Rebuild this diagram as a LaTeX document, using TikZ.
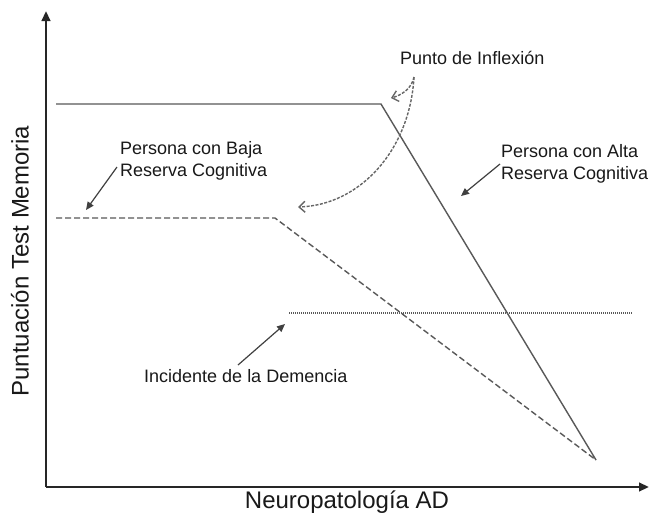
\documentclass[tikz,border=0pt]{standalone}
\usepackage{fontspec}
\setmainfont{Liberation Sans}
\usetikzlibrary{arrows.meta}
\begin{document}
\begin{tikzpicture}[x=1pt,y=-1pt,
  lbl/.style={font=\fontsize{18}{22.5}\selectfont, text=black!90, inner sep=0pt, align=left},
  axlbl/.style={font=\fontsize{24}{28}\selectfont, text=black!90, inner sep=0pt},
  axis/.style={line width=2.6pt, black!85, -{Triangle[length=10pt,width=8.5pt]}},
  curve/.style={line width=1.4pt, black!65},
  ptr/.style={line width=1.2pt, black!75, -{Triangle[length=8pt,width=7pt]}},
  bendarrow/.style={line width=1.4pt, black!60, dash pattern=on 3pt off 1.5pt, -{Straight Barb[length=6pt,width=11pt]}}]
\useasboundingbox (0,0) rectangle (651,515);
\fill[white] (0,0) rectangle (651,515);
% axes
\coordinate (O) at (46,487);
\coordinate (ytip) at (46,11);
\coordinate (xtip) at (649,487);
\draw[axis] (O) -- (ytip);
\draw[axis] (O) -- (xtip);
\node[axlbl, rotate=90] (ylab) at (20,261) {Puntuación Test Memoria};
\node[axlbl] (xlab) at (347,502) {Neuropatología AD};
% curves
\coordinate (h0) at (56,104);
\coordinate (h1) at (381,104);
\coordinate (end) at (596,460);
\coordinate (l0) at (56,218);
\coordinate (l1) at (275,218);
\coordinate (d0) at (289,313);
\coordinate (d1) at (632,313);
\draw[curve] (h0) -- (h1) -- (end);
\draw[curve, dash pattern=on 6pt off 3pt] (l0) -- (l1) -- (end);
\draw[curve, line width=1.6pt, dash pattern=on 1pt off 1pt] (d0) -- (d1);
% labels
\node[lbl, anchor=west] (inf) at (400,58) {Punto de Inflexión};
\node[lbl, anchor=west] (baja) at (120,161) {Persona con Baja\\Reserva Cognitiva};
\node[lbl, anchor=west] (alta) at (501,164) {Persona con Alta\\Reserva Cognitiva};
\node[lbl, anchor=west] (inc) at (144,376) {Incidente de la Demencia};
% pointers
\coordinate (bs) at (117,167); \coordinate (be) at (86,210);
\coordinate (as) at (500,164); \coordinate (ae) at (461,196);
\coordinate (is) at (238,365); \coordinate (ie) at (285,324);
\draw[ptr] (bs) -- (be);
\draw[ptr] (as) -- (ae);
\draw[ptr] (is) -- (ie);
% inflection arrows
\coordinate (fs) at (414,77);
\coordinate (fa) at (391,98);
\coordinate (fb) at (298,207);
\draw[bendarrow] (fs) .. controls (412,88) and (402,95) .. (fa);
\draw[bendarrow] (fs) .. controls (410,150) and (360,205) .. (fb);
\end{tikzpicture}
\end{document}
